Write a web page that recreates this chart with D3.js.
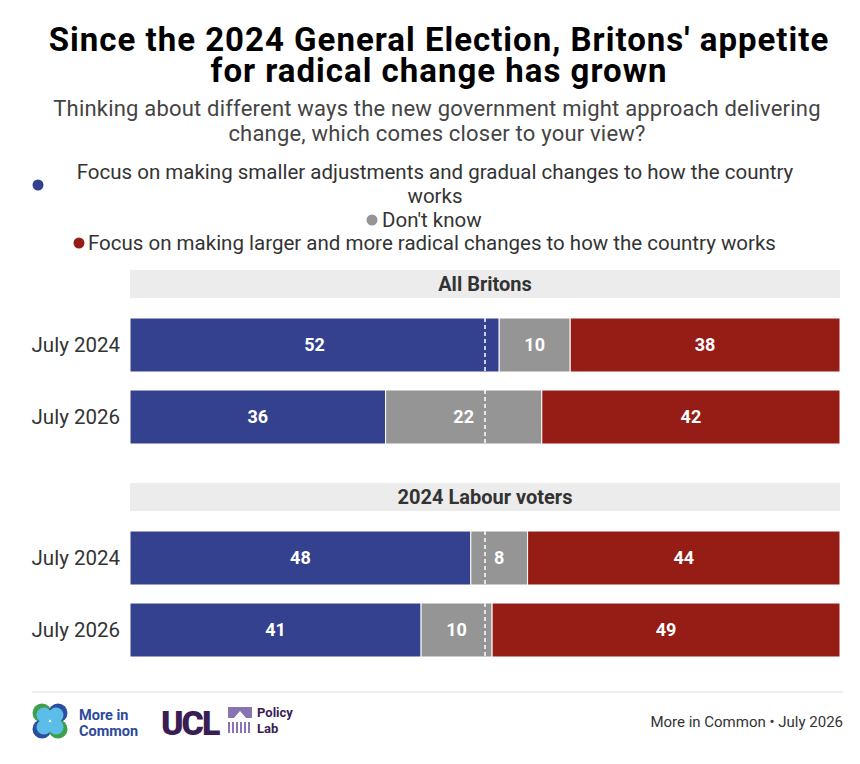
<!DOCTYPE html>
<html>
<head>
<meta charset="utf-8">
<script src="https://cdn.jsdelivr.net/npm/d3@7"></script>
<style>
  body { margin: 0; background: #fff; }
  svg { display: block; font-family: Roboto, "Noto Sans", sans-serif; }
</style>
</head>
<body>
<script>
// data
var panels = ["All Britons", "2024 Labour voters"];
var waves = ["July 2024", "July 2026"];
var seriesNames = ["Focus on making smaller adjustments and gradual changes to how the country works", "Don't know", "Focus on making larger and more radical changes to how the country works"];
var gradual = [[52, 36], [48, 41]];
var dontKnow = [[10, 22], [8, 10]];
var radical = [[38, 42], [44, 49]];
var colors = ["#34418f", "#959595", "#961c16"];

var width = 860, height = 764;

var svg = d3.select("body").append("svg")
    .attr("width", width)
    .attr("height", height);

// titles
var title = svg.append("text")
    .attr("x", 439).attr("y", 51)
    .attr("text-anchor", "middle")
    .style("font-weight", "700").style("font-size", "33px").style("letter-spacing", "1px").style("fill", "#000");
title.append("tspan").attr("x", 439).text("Since the 2024 General Election, Britons' appetite");
title.append("tspan").attr("x", 439).attr("dy", 31).text("for radical change has grown");

var sub = svg.append("text")
    .attr("x", 437).attr("y", 116)
    .attr("text-anchor", "middle")
    .style("font-size", "22px").style("letter-spacing", "0.2px").style("fill", "#444");
sub.append("tspan").attr("x", 437).text("Thinking about different ways the new government might approach delivering");
sub.append("tspan").attr("x", 437).attr("dy", 25).text("change, which comes closer to your view?");

// legend
var lg = svg.append("g").style("font-size", "20.5px").style("fill", "#333");
lg.append("circle").attr("cx", 38).attr("cy", 185).attr("r", 5.5).attr("fill", colors[0]);
lg.append("text").attr("x", 435).attr("y", 179).attr("text-anchor", "middle")
    .text("Focus on making smaller adjustments and gradual changes to how the country");
lg.append("text").attr("x", 435).attr("y", 203).attr("text-anchor", "middle").text("works");
lg.append("circle").attr("cx", 372).attr("cy", 220).attr("r", 5.5).attr("fill", colors[1]);
lg.append("text").attr("x", 382).attr("y", 227).text(seriesNames[1]);
lg.append("circle").attr("cx", 79).attr("cy", 243).attr("r", 5.5).attr("fill", colors[2]);
lg.append("text").attr("x", 88).attr("y", 250).text(seriesNames[2]);

// scales
var x = d3.scaleLinear().domain([0, 100]).range([130, 840]);
var panelTop = [270, 483];
var y = d3.scaleBand().domain(waves).range([48, 174]).paddingInner(0.25).paddingOuter(0);

panels.forEach(function(p, pi) {
  var g = svg.append("g").attr("transform", "translate(0," + panelTop[pi] + ")");

  g.append("rect")
      .attr("x", x(0)).attr("y", 0)
      .attr("width", x(100) - x(0)).attr("height", 28)
      .attr("fill", "#ececec");
  g.append("text")
      .attr("x", (x(0) + x(100)) / 2).attr("y", 21)
      .attr("text-anchor", "middle")
      .style("font-size", "20px").style("font-weight", "700").style("fill", "#333")
      .text(p);

  var rows = waves.map(function(w, wi) {
    var vals = [gradual[pi][wi], dontKnow[pi][wi], radical[pi][wi]];
    var start = 0;
    return {wave: w, segs: vals.map(function(v, si) {
      var s = {x0: start, x1: start + v, v: v, c: colors[si]};
      start += v;
      return s;
    })};
  });

  rows.forEach(function(r) {
    var rg = g.append("g");
    rg.selectAll("rect").data(r.segs).enter().append("rect")
        .attr("x", function(d) { return x(d.x0); })
        .attr("y", y(r.wave))
        .attr("width", function(d) { return x(d.x1) - x(d.x0); })
        .attr("height", y.bandwidth())
        .attr("fill", function(d) { return d.c; })
        .attr("stroke", "#fff").attr("stroke-width", 1);
    rg.selectAll("text.val").data(r.segs).enter().append("text")
        .attr("class", "val")
        .attr("x", function(d) { return (x(d.x0) + x(d.x1)) / 2; })
        .attr("y", y(r.wave) + y.bandwidth() / 2 + 6)
        .attr("text-anchor", "middle")
        .style("font-size", "18px").style("font-weight", "700").style("fill", "#fff")
        .text(function(d) { return d.v; });
    rg.append("line")
        .attr("x1", x(50)).attr("x2", x(50))
        .attr("y1", y(r.wave)).attr("y2", y(r.wave) + y.bandwidth())
        .attr("stroke", "#fff").attr("stroke-width", 1.5)
        .attr("stroke-dasharray", "4,3");
    g.append("text")
        .attr("x", 120).attr("y", y(r.wave) + y.bandwidth() / 2 + 7)
        .attr("text-anchor", "end")
        .style("font-size", "20.5px").style("fill", "#333")
        .text(r.wave);
  });
});

// footer
svg.append("line").attr("x1", 32).attr("x2", 843).attr("y1", 692).attr("y2", 692)
    .attr("stroke", "#ddd").attr("stroke-width", 1);

var logo = svg.append("g");
[[42, 713, "#3fa04a"], [58, 713, "#2c4ea0"], [42, 729, "#2c4ea0"], [58, 729, "#3fa04a"]].forEach(function(c) {
  logo.append("circle").attr("cx", c[0]).attr("cy", c[1]).attr("r", 9.5).attr("fill", c[2]);
});
[[44, 715], [56, 715], [44, 727], [56, 727]].forEach(function(c) {
  logo.append("circle").attr("cx", c[0]).attr("cy", c[1]).attr("r", 7.5).attr("fill", "#5bbde8");
});
logo.append("text").attr("x", 79).attr("y", 720)
    .style("font-size", "14.5px").style("font-weight", "700").style("fill", "#2e4a9a").text("More in");
logo.append("text").attr("x", 79).attr("y", 736)
    .style("font-size", "14.5px").style("font-weight", "700").style("fill", "#2e4a9a").text("Common");

logo.append("text").attr("x", 161).attr("y", 735)
    .style("font-size", "34px").style("font-weight", "900").style("fill", "#3b1d55")
    .style("letter-spacing", "-2px").text("UCL");
logo.append("path")
    .attr("d", "M228,707 L252,707 L252,718 L246,718 L240,711 L234,718 L228,718 Z")
    .attr("fill", "#8a72b3");
for (var i = 0; i < 6; i++) {
  logo.append("rect").attr("x", 228 + i * 4).attr("y", 722).attr("width", 2).attr("height", 11).attr("fill", "#8a72b3");
}
logo.append("text").attr("x", 257).attr("y", 717)
    .style("font-size", "13px").style("font-weight", "700").style("fill", "#3b1d55").text("Policy");
logo.append("text").attr("x", 257).attr("y", 733)
    .style("font-size", "13px").style("font-weight", "700").style("fill", "#3b1d55").text("Lab");

svg.append("text").attr("x", 843).attr("y", 727)
    .attr("text-anchor", "end")
    .style("font-size", "15px").style("fill", "#333")
    .text("More in Common \u2022 July 2026");
</script>
</body>
</html>
